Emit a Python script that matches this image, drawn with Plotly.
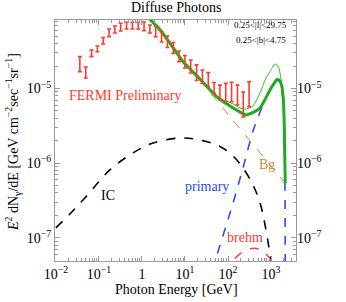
import plotly.graph_objects as go

# ---------------- data ----------------
fermi_E = [0.0361, 0.0494, 0.0675, 0.0922, 0.126, 0.172, 0.235, 0.321, 0.439, 0.600,
           0.820, 1.12, 1.53, 2.09, 2.86, 3.91, 5.34, 7.30, 9.97, 13.6,
           18.6, 25.5, 34.8, 47.5, 64.9, 88.7, 121, 166, 226, 309]
fermi_hi = [2.67e-5, 1.94e-5, 3.27e-5, 3.71e-5, 4.79e-5, 6.26e-5, 6.87e-5, 7.46e-5, 7.69e-5, 7.69e-5,
            7.69e-5, 7.76e-5, 7.08e-5, 6.87e-5, 5.70e-5, 5.04e-5, 4.13e-5, 3.18e-5, 2.77e-5, 2.41e-5,
            2.07e-5, 1.77e-5, 1.63e-5, 1.20e-5, 1.11e-5, 1.17e-5, 1.21e-5, 1.11e-5, 8.98e-6, 1.23e-5]
fermi_lo = [1.68e-5, 1.38e-5, 2.67e-5, 3.11e-5, 3.94e-5, 4.93e-5, 5.53e-5, 5.89e-5, 6.26e-5, 6.26e-5,
            6.26e-5, 5.94e-5, 5.53e-5, 4.93e-5, 4.19e-5, 3.54e-5, 2.94e-5, 2.29e-5, 1.88e-5, 1.61e-5,
            1.28e-5, 1.17e-5, 1.06e-5, 8.63e-6, 7.02e-6, 6.65e-6, 6.65e-6, 6.01e-6, 4.15e-6, 5.70e-6]

total_E = [0.90, 2.62, 8.98, 22.3, 55.5, 111, 171, 262, 381, 555, 948, 1175, 1380, 1578, 1755, 1933, 2038, 2070, 2140]
total_v = [1.12e-4, 6.17e-5, 2.30e-5, 1.34e-5, 7.69e-6, 5.83e-6, 5.00e-6, 4.42e-6, 4.78e-6, 5.48e-6,
           9.55e-6, 1.17e-5, 1.32e-5, 1.28e-5, 1.11e-5, 7.02e-6, 2.78e-6, 1.50e-6, 5.43e-7]

alt_E = [0.90, 2.62, 8.98, 22.3, 55.5, 85.1, 131, 190, 248, 381, 555, 725, 948, 1239, 1494, 1755, 1954, 2060, 2140]
alt_v = [1.12e-4, 6.17e-5, 2.30e-5, 1.34e-5, 7.69e-6, 6.90e-6, 6.21e-6, 5.48e-6, 5.27e-6, 5.83e-6,
         8.71e-6, 1.30e-5, 1.69e-5, 2.13e-5, 1.94e-5, 1.19e-5, 6.01e-6, 2.05e-6, 5.43e-7]

bg_E = [1.0, 10, 100, 1000, 2140]
bg_v = [1.11e-4, 2.24e-5, 4.53e-6, 9.14e-7, 5.38e-7]

primary_E = [42.5, 131, 223, 381, 725, 1114, 1380, 1578, 1755, 1933, 2038, 2090, 2140]
primary_v = [3.61e-8, 2.93e-7, 8.63e-7, 2.70e-6, 7.02e-6, 1.11e-5, 1.28e-5, 1.24e-5, 1.05e-5,
             6.40e-6, 2.39e-6, 1.10e-6, 3.0e-8]

ic_E = [0.01, 0.0212, 0.0472, 0.180, 0.618, 1.80, 7.65, 22.3, 65.2, 131, 223, 381, 555, 725, 1000, 1114]
ic_v = [1.36e-7, 2.09e-7, 3.42e-7, 8.11e-7, 1.37e-6, 1.86e-6, 2.17e-6, 2.04e-6, 1.67e-6, 1.25e-6,
        8.63e-7, 5.11e-7, 2.93e-7, 1.49e-7, 4.91e-8, 3.18e-8]

brehm_E = [100, 131, 190, 277, 403, 555, 725, 1000, 1175]
brehm_v = [3.18e-8, 4.91e-8, 6.09e-8, 6.89e-8, 7.26e-8, 7.00e-8, 6.28e-8, 4.91e-8, 3.18e-8]

x_tickvals = [0.01, 0.1, 1, 10, 100, 1000]
x_ticktext = ["10<sup>−2</sup>", "10<sup>−1</sup>", "1", "10<sup>1</sup>", "10<sup>2</sup>", "10<sup>3</sup>"]
y_tickvals = [1e-7, 1e-6, 1e-5]
y_ticktext = ["10<sup>−7</sup>", "10<sup>−6</sup>", "10<sup>−5</sup>"]

# ---------------- figure ----------------
W, H = 346, 302
L, R, T, B = 55, 296, 20, 261
FONT = "Liberation Serif"
RED = "#ff3b2b"
GREEN = "#22aa22"
BLUE = "#2a4df5"
ORANGE = "#cf8a3c"
GRAY = "#9a9a9a"

x_minor = [m * 10.0 ** e for e in range(-2, 4) for m in range(2, 10)]
y_minor = [m * 10.0 ** e for e in range(-8, -4) for m in range(2, 10)]

def px(x, y):
    return (x - L) / (R - L), (B - y) / (B - T)

fig = go.Figure()

fig.add_trace(go.Scatter(x=ic_E, y=ic_v, mode="lines", line_shape="spline",
                         line=dict(color="black", width=1.6, dash="dash")))
fig.add_trace(go.Scatter(x=brehm_E, y=brehm_v, mode="lines", line_shape="spline",
                         line=dict(color=RED, width=1.4, dash="dash")))
fig.add_trace(go.Scatter(x=bg_E, y=bg_v, mode="lines",
                         line=dict(color=ORANGE, width=1, dash="dash")))
fig.add_trace(go.Scatter(x=primary_E, y=primary_v, mode="lines", line_shape="spline",
                         line=dict(color=BLUE, width=1.6, dash="dash", smoothing=0.6)))
fig.add_trace(go.Scatter(x=alt_E, y=alt_v, mode="lines", line_shape="spline",
                         line=dict(color="#33bb22", width=1, smoothing=0.6)))
fig.add_trace(go.Scatter(x=total_E, y=total_v, mode="lines", line_shape="spline",
                         line=dict(color=GREEN, width=3, smoothing=0.6)))

ctr = [(a * b) ** 0.5 for a, b in zip(fermi_lo, fermi_hi)]
fig.add_trace(go.Scatter(
    x=fermi_E, y=ctr, mode="markers", marker=dict(size=1, color=RED, opacity=0),
    error_y=dict(type="data", symmetric=False,
                 array=[h - c for h, c in zip(fermi_hi, ctr)],
                 arrayminus=[c - l for l, c in zip(fermi_lo, ctr)],
                 color=RED, thickness=1.6, width=2)))

# dummy trace for right-hand axis labels
fig.add_trace(go.Scatter(x=[1], y=[1e-6], yaxis="y2", mode="markers",
                         marker=dict(opacity=0), hoverinfo="skip"))

axis_common = dict(type="log", showgrid=False, zeroline=False,
                   showline=True, linecolor=GRAY, linewidth=1,
                   ticks="inside", ticklen=5, tickcolor=GRAY,
                   tickfont=dict(family=FONT, size=14, color="black"))

fig.update_layout(
    width=W, height=H,
    margin=dict(l=L, r=W - R, t=T, b=H - B, autoexpand=False),
    paper_bgcolor="white", plot_bgcolor="white",
    showlegend=False,
    xaxis=dict(range=[-2.02, 3.58], tickvals=x_tickvals, ticktext=x_ticktext,
               mirror="ticks",
               minor=dict(tickvals=x_minor, ticks="inside", ticklen=3, tickcolor=GRAY, showgrid=False),
               **axis_common),
    yaxis=dict(range=[-7.31, -4.083], tickvals=y_tickvals, ticktext=y_ticktext,
               mirror="ticks",
               minor=dict(tickvals=y_minor, ticks="inside", ticklen=3, tickcolor=GRAY, showgrid=False),
               **axis_common),
    yaxis2=dict(range=[-7.31, -4.083], type="log", overlaying="y", side="right",
                tickvals=y_tickvals, ticktext=y_ticktext, showgrid=False, zeroline=False,
                showline=False, ticks="",
                tickfont=dict(family=FONT, size=14, color="black")),
)

def ann(text, x, y, size=14, color="black", angle=0, xanchor="center"):
    ax, ay = px(x, y)
    fig.add_annotation(text=text, x=ax, y=ay, xref="paper", yref="paper",
                       showarrow=False, textangle=angle, xanchor=xanchor, yanchor="middle",
                       font=dict(family=FONT, size=size, color=color))

ann("Diffuse Photons", 176, 8, size=14)
ann("0.25<|l|<29.75", 289, 25, size=9, xanchor="right")
ann("0.25<|b|<4.75", 288, 40, size=9, xanchor="right")
ann("FERMI Preliminary", 124.5, 95, size=14, color=RED)
ann("Bg", 266.5, 164, size=14, color=ORANGE)
ann("primary", 206.5, 186, size=14, color=BLUE)
ann("IC", 107.5, 195, size=14)
ann("brehm", 245, 237, size=14, color=RED)
ann("Photon Energy [GeV]", 176, 289, size=14)
ann("<i>E</i><sup>2</sup> dN<sub>γ</sub>/dE [GeV cm<sup>−2</sup>sec<sup>−1</sup>sr<sup>−1</sup>]",
    13, 142, size=14, angle=-90)

fig.write_html("out.html", config={"displayModeBar": False},
               post_script="document.body.style.margin='0';")
